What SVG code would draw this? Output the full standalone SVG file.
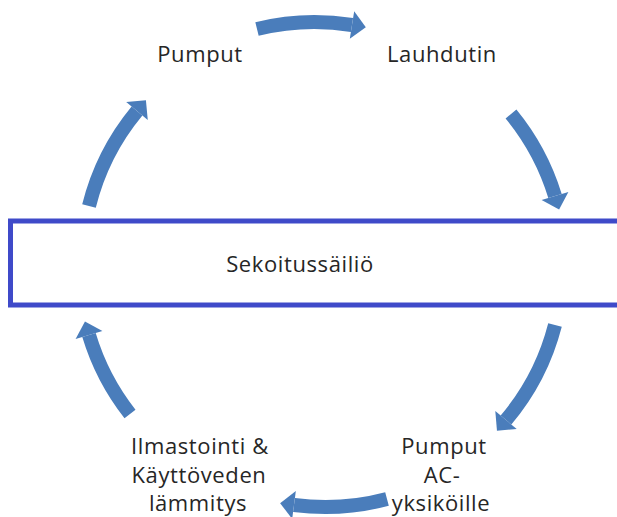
<svg xmlns="http://www.w3.org/2000/svg" width="617" height="517" viewBox="0 0 617 517">
  <style>
    .lbl { font-family: "Open Sans", "Noto Sans", sans-serif; font-size: 22px; fill: #262626; text-anchor: middle; letter-spacing: 0.6px; }
    .arc { fill: none; stroke: #4a7dbb; stroke-width: 14; stroke-linecap: butt; marker-end: url(#head); }
    .tank { fill: #ffffff; stroke: #3f4ac9; stroke-width: 5; }
  </style>
  <defs>
    <marker id="head" markerUnits="userSpaceOnUse" markerWidth="16" markerHeight="30" refX="0" refY="14" orient="auto" viewBox="0 0 16 28" overflow="visible">
      <polygon points="0,0 14,14 0,28" fill="#4a7dbb"/>
    </marker>
  </defs>
  <rect width="617" height="517" fill="#ffffff"/>

  <g id="connectors">
    <path class="arc" d="M 257 29 A 240 240 0 0 1 352 25"/>
    <path class="arc" d="M 511 114 A 240 240 0 0 1 555 196"/>
    <path class="arc" d="M 555 325 A 240 240 0 0 1 506 420"/>
    <path class="arc" d="M 387 499 A 240 240 0 0 1 294 505"/>
    <path class="arc" d="M 130 414 A 240 240 0 0 1 89 335"/>
    <path class="arc" d="M 89 206 A 240 240 0 0 1 137 111"/>
  </g>

  <g id="node-sekoitussailio">
    <rect class="tank" x="10.5" y="221" width="620" height="84"/>
    <text class="lbl" x="300" y="272">Sekoitussäiliö</text>
  </g>
  <g id="node-pumput">
    <text class="lbl" x="200" y="62">Pumput</text>
  </g>
  <g id="node-lauhdutin">
    <text class="lbl" x="442" y="62">Lauhdutin</text>
  </g>
  <g id="node-pumput-ac">
    <text class="lbl" x="444" y="454">Pumput</text>
    <text class="lbl" x="442" y="483">AC-</text>
    <text class="lbl" x="441" y="511">yksiköille</text>
  </g>
  <g id="node-ilmastointi">
    <text class="lbl" x="200" y="454">Ilmastointi &amp;</text>
    <text class="lbl" x="199" y="483">Käyttöveden</text>
    <text class="lbl" x="198" y="511">lämmitys</text>
  </g>
</svg>
